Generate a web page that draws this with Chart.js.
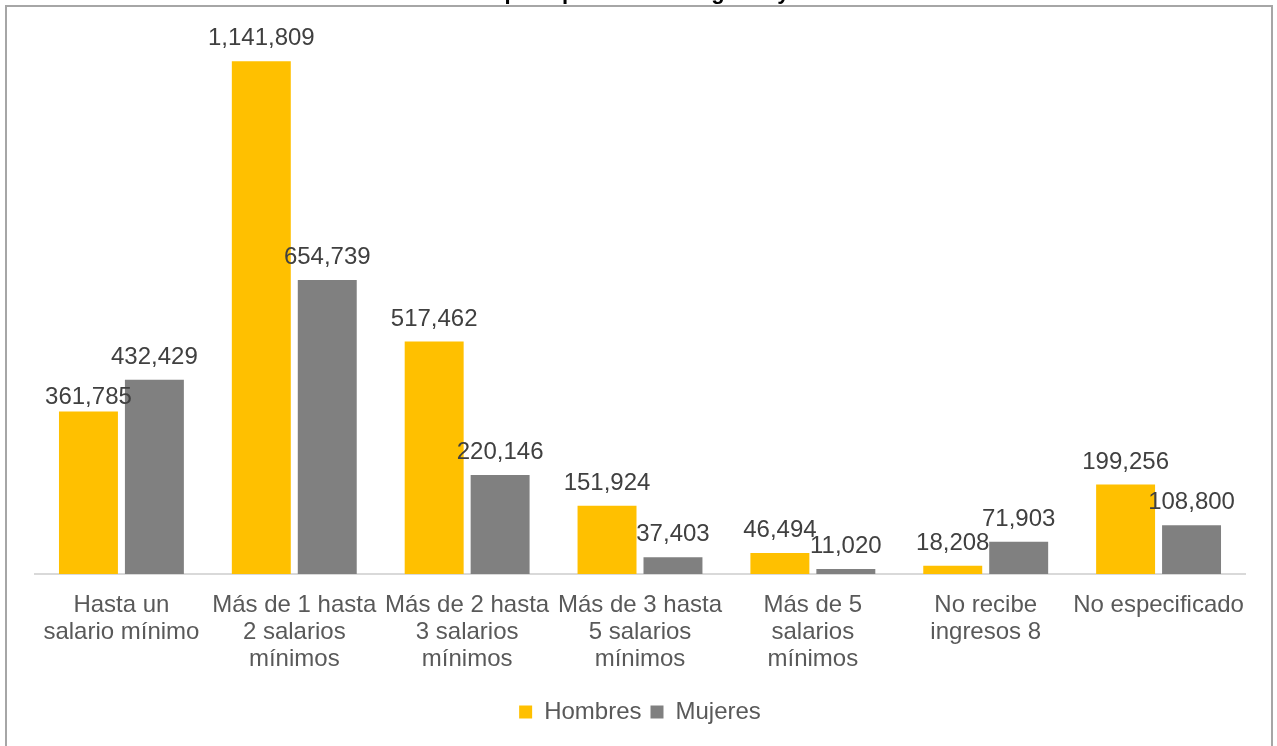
<!DOCTYPE html>
<html>
<head>
<meta charset="utf-8">
<script src="https://cdn.jsdelivr.net/npm/chart.js@4/dist/chart.umd.min.js"></script>
<style>
  html, body { margin: 0; padding: 0; background: #fff; overflow: hidden; }
  #frame { position: absolute; left: 5px; top: 5px; width: 1268px; height: 760px; border: 2px solid #a6a6a6; box-sizing: border-box; }
  #wrap { position: absolute; left: 0; top: 0; width: 1277px; height: 746px; }
</style>
</head>
<body>
<div id="frame"></div>
<div id="wrap"><canvas id="c" width="1277" height="746"></canvas></div>
<script>
const titleText = "Población ocupada por nivel de ingreso y sexo";
const categories = [
  ["Hasta un", "salario mínimo"],
  ["Más de 1 hasta", "2 salarios", "mínimos"],
  ["Más de 2 hasta", "3 salarios", "mínimos"],
  ["Más de 3 hasta", "5 salarios", "mínimos"],
  ["Más de 5", "salarios", "mínimos"],
  ["No recibe", "ingresos 8"],
  ["No especificado"]
];
const hombres = [361785, 1141809, 517462, 151924, 46494, 18208, 199256];
const mujeres = [432429, 654739, 220146, 37403, 11020, 71903, 108800];

const FONT = "'Liberation Sans', Arial, sans-serif";

const labelPlugin = {
  id: 'barLabels',
  afterDatasetsDraw(chart) {
    const ctx = chart.ctx;
    ctx.save();
    ctx.font = "24px " + FONT;
    ctx.fillStyle = '#404040';
    ctx.textAlign = 'center';
    ctx.textBaseline = 'alphabetic';
    chart.data.datasets.forEach((ds, di) => {
      const meta = chart.getDatasetMeta(di);
      meta.data.forEach((bar, i) => {
        const v = ds.data[i];
        // first label sits lower in the original to avoid its neighbour
        const off = (di === 0 && i === 0) ? 7 : 16;
        ctx.fillText(v.toLocaleString('en-US'), bar.x, bar.y - off);
      });
    });
    ctx.restore();
  }
};

const titlePlugin = {
  id: 'cutTitle',
  afterDraw(chart) {
    const ctx = chart.ctx;
    ctx.save();
    ctx.font = "bold 22px " + FONT;
    ctx.fillStyle = '#000';
    ctx.textAlign = 'center';
    ctx.textBaseline = 'alphabetic';
    ctx.fillText(titleText, 600, -1);
    ctx.restore();
  }
};

new Chart(document.getElementById('c'), {
  type: 'bar',
  data: {
    labels: categories,
    datasets: [
      { label: 'Hombres', data: hombres, backgroundColor: '#FFC000' },
      { label: 'Mujeres', data: mujeres, backgroundColor: '#808080' }
    ]
  },
  options: {
    responsive: false,
    animation: false,
    devicePixelRatio: 1,
    layout: { padding: { left: 35, right: 32, top: 35, bottom: 12 } },
    datasets: { bar: { categoryPercentage: 0.763, barPercentage: 0.894 } },
    scales: {
      y: {
        display: false,
        min: 0,
        max: 1200000
      },
      x: {
        grid: { display: false, drawTicks: false },
        border: { display: true, color: '#d9d9d9', width: 2 },
        ticks: {
          color: '#595959',
          font: { family: FONT, size: 24, lineHeight: 1.125 },
          padding: 18,
          maxRotation: 0,
          autoSkip: false
        }
      }
    },
    plugins: {
      legend: {
        position: 'bottom',
        labels: {
          color: '#595959',
          font: { family: FONT, size: 24 },
          boxWidth: 13,
          boxHeight: 13,
          padding: 9
        }
      },
      tooltip: { enabled: false }
    }
  },
  plugins: [labelPlugin, titlePlugin]
});
</script>
</body>
</html>
